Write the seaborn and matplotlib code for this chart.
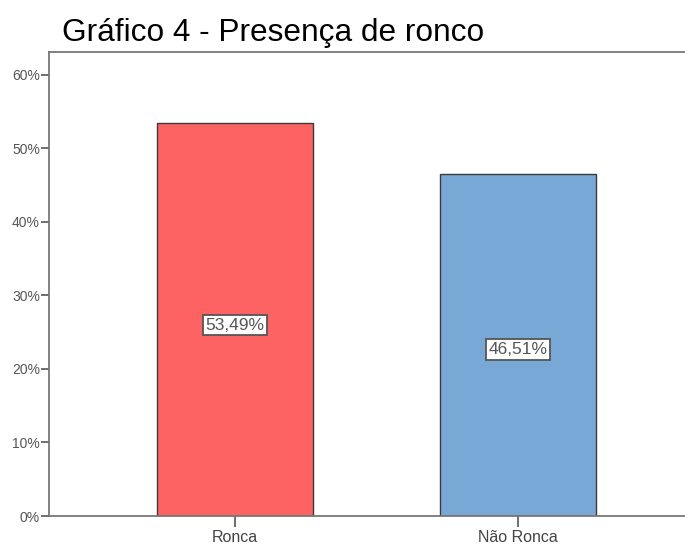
import matplotlib
matplotlib.use("Agg")
import matplotlib.pyplot as plt
import seaborn as sns
import pandas as pd

categories = ["Ronca", "Não Ronca"]
values = [53.49, 46.51]
labels = ["53,49%", "46,51%"]
colors = ["#FE6363", "#78A8D6"]
yticks = [0, 10, 20, 30, 40, 50, 60]

sns.set_style("white")
plt.rcParams["font.family"] = ["Liberation Sans", "DejaVu Sans"]

df = pd.DataFrame({"cat": categories, "val": values})
fig = plt.figure(figsize=(6.85, 5.5), dpi=100)
ax = fig.add_axes([49/685, 1 - 516/550, (685 - 49)/685, (516 - 52)/550])

sns.barplot(data=df, x="cat", y="val", hue="cat", palette=colors, legend=False,
            width=0.55, edgecolor="#3a3a3a", linewidth=1.0, ax=ax, saturation=1)

ax.set_xlim(-0.657, 1.59)
ax.set_ylim(0, 63.1)
ax.set_yticks(yticks)
ax.set_yticklabels([f"{t}%" for t in yticks], color="#555555", fontsize=10)
ax.set_xticks(range(len(categories)))
ax.set_xticklabels(categories, color="#444444", fontsize=11.5)
ax.set_xlabel("")
ax.set_ylabel("")
ax.tick_params(axis="y", direction="out", length=6, width=1.2, color="#555555", left=True, pad=0.5)
ax.tick_params(axis="x", direction="out", length=8, width=1.2, color="#555555", bottom=True, pad=2)
for s in ["left", "bottom", "top"]:
    ax.spines[s].set_color("#777777")
    ax.spines[s].set_linewidth(1.3)
ax.spines["right"].set_visible(False)

for i, (v, lab) in enumerate(zip(values, labels)):
    ax.text(i, v / 2 - (0.8 if i == 0 else 0.6), lab, ha="center", va="center", fontsize=12.5, color="#555555",
            bbox=dict(boxstyle="square,pad=0.15", facecolor="white", edgecolor="#555555", linewidth=1.3))

fig.text(62/685, 1 - 33/550, "Gráfico 4 - Presença de ronco", fontsize=22.8, color="black",
         ha="left", va="center")

fig.savefig("out.png", dpi=100)
